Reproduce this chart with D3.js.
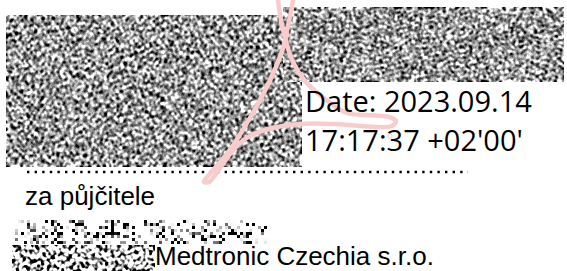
<!DOCTYPE html>
<html>
<head>
<meta charset="utf-8">
<script src="https://cdn.jsdelivr.net/npm/d3@7"></script>
<style>
  html, body { margin: 0; padding: 0; background: #fff; }
  svg { display: block; }
</style>
</head>
<body>
<div id="sig"></div>
<script>
const width = 567;
const height = 271;

// texts of the signature stamp
const dateLines = ["Date: 2023.09.14", "17:17:37 +02'00'"];
const roleLines = ["za půjčitele"];
const companyLines = ["Medtronic Czechia s.r.o."];

// acrobat ribbon, in logo units (one unit = one px, origin at the logo box)
const logoX = [95, 92, 88, 84, 73, 59, 44, 29, 14, 4, 9, 18, 30, 45, 65, 100, 135, 175, 192, 196, 189, 166, 147, 125, 105, 93, 85, 80, 77];
const logoY = [-10, 6, 26, 45, 74, 102, 128, 151, 169, 182, 182, 171, 154, 139, 130, 124, 124, 127, 126, 121, 117, 115, 113, 99, 81, 62, 38, 15, -10];

const svg = d3.select("#sig")
  .append("svg")
    .attr("width", width)
    .attr("height", height);

const defs = svg.append("defs");

// redacted areas: fine noise, blurred, then pushed to grey speckles
const blocks = [
  {id: "nA", x: 6, y: 15, w: 296, h: 152, freq: 0.8, seed: 3, blur: 1.15, gain: 16, off: 8.6, cell: 0},
  {id: "nB", x: 283, y: 7, w: 281, h: 75, freq: 0.8, seed: 11, blur: 1.15, gain: 16, off: 8.6, cell: 0},
  {id: "nC", x: 15, y: 220, w: 253, h: 25, freq: 0.9, seed: 5, blur: 0.7, gain: 9, off: 5.9, cell: 3},
  {id: "nD", x: 12, y: 245, w: 143, h: 26, freq: 0.5, seed: 7, blur: 1.3, gain: 20, off: 10.8, cell: 0}
];

blocks.forEach(b => {
  const f = defs.append("filter")
      .attr("id", b.id)
      .attr("filterUnits", "userSpaceOnUse")
      .attr("x", b.x).attr("y", b.y).attr("width", b.w).attr("height", b.h)
      .attr("color-interpolation-filters", "sRGB");
  f.append("feTurbulence")
      .attr("type", "fractalNoise")
      .attr("baseFrequency", b.freq)
      .attr("numOctaves", 1)
      .attr("seed", b.seed);
  f.append("feGaussianBlur").attr("stdDeviation", b.blur);
  const row = `${-b.gain} 0 0 0 ${b.off}`;
  f.append("feColorMatrix")
      .attr("type", "matrix")
      .attr("values", `${row} ${row} ${row} 0 0 0 0 1`)
      .attr("result", "g");
  if (b.cell) {
    f.append("feFlood")
        .attr("x", b.x + 1).attr("y", b.y + 1)
        .attr("width", 1).attr("height", 1)
        .attr("flood-color", "#000");
    f.append("feComposite")
        .attr("x", b.x).attr("y", b.y)
        .attr("width", b.cell).attr("height", b.cell);
    f.append("feTile").attr("result", "grid");
    f.append("feComposite").attr("in", "g").attr("in2", "grid").attr("operator", "in");
    f.append("feMorphology").attr("operator", "dilate").attr("radius", 1);
  }
});

svg.append("g")
  .selectAll("rect")
  .data(blocks)
  .join("rect")
    .attr("x", d => d.x)
    .attr("y", d => d.y)
    .attr("width", d => d.w)
    .attr("height", d => d.h)
    .attr("fill", "#fff")
    .attr("filter", d => `url(#${d.id})`);

// dotted signature line
svg.append("line")
    .attr("x1", 27)
    .attr("x2", 468)
    .attr("y1", 172)
    .attr("y2", 172)
    .attr("stroke", "#000")
    .attr("stroke-width", 2.4)
    .attr("stroke-dasharray", "2.4 5.2");

// acrobat watermark
const lx = d3.scaleLinear().domain([0, 200]).range([200, 400]);
const ly = d3.scaleLinear().domain([0, 185]).range([0, 185]);

const ribbon = d3.line()
    .x(i => lx(logoX[i]))
    .y(i => ly(logoY[i]))
    .curve(d3.curveCatmullRom.alpha(0.5));

svg.append("path")
    .attr("d", ribbon(d3.range(logoX.length)))
    .attr("fill", "none")
    .attr("stroke", "#f9cccc")
    .attr("stroke-width", 4.5)
    .attr("stroke-linecap", "round");

svg.append("circle")
    .attr("cx", lx(190))
    .attr("cy", ly(136))
    .attr("r", 2.2)
    .attr("fill", "none")
    .attr("stroke", "#f9cccc")
    .attr("stroke-width", 1);

// date block
svg.append("g")
  .selectAll("text")
  .data(dateLines)
  .join("text")
    .attr("x", 305)
    .attr("y", (d, i) => 112 + i * 38.5)
    .attr("font-family", "'Open Sans', sans-serif")
    .attr("font-size", 29)
    .attr("fill", "#000")
    .text(d => d);

svg.append("text")
    .attr("x", 25)
    .attr("y", 205)
    .attr("font-family", "'Liberation Sans', Arial, sans-serif")
    .attr("font-size", 26)
    .attr("fill", "#000")
    .text(roleLines[0]);

svg.append("text")
    .attr("x", 155)
    .attr("y", 265)
    .attr("font-family", "'Liberation Sans', Arial, sans-serif")
    .attr("font-size", 26)
    .attr("fill", "#000")
    .text(companyLines[0]);
</script>
</body>
</html>
